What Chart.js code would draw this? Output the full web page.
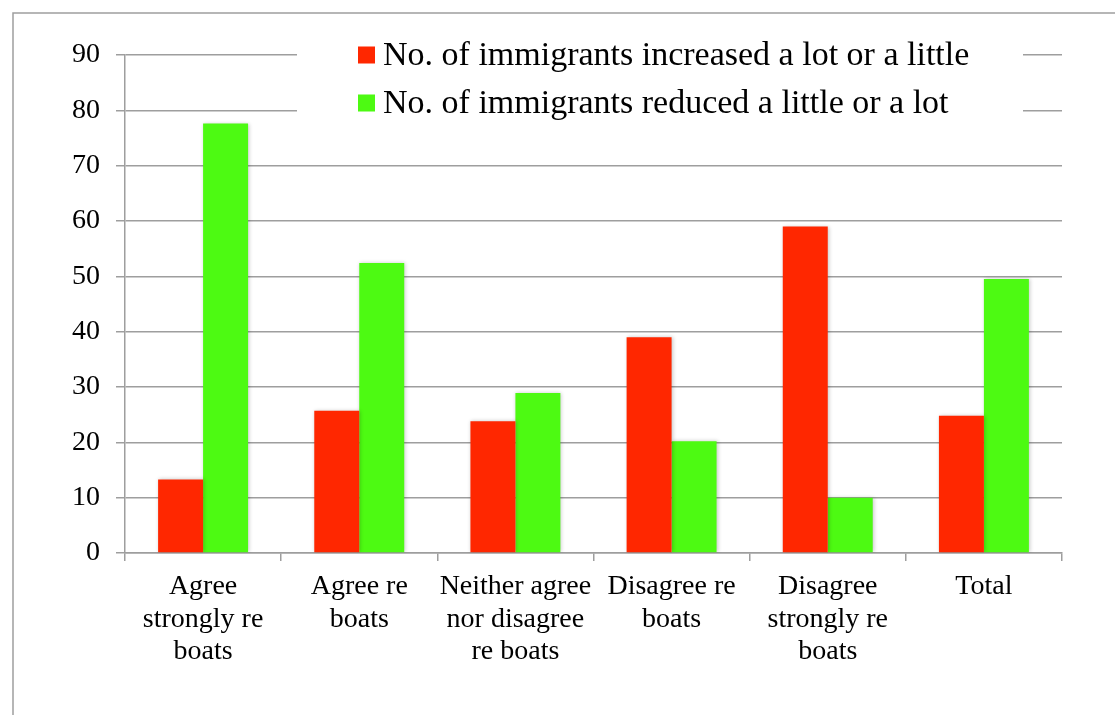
<!DOCTYPE html>
<html>
<head>
<meta charset="utf-8">
<script src="https://cdn.jsdelivr.net/npm/chart.js@4.4.1/dist/chart.umd.min.js"></script>
<style>
  html, body { margin: 0; padding: 0; background: #ffffff; }
  #wrap { width: 1115px; height: 715px; position: relative; }
</style>
</head>
<body>
<div id="wrap"><canvas id="chart" width="1115" height="715"></canvas></div>
<script>
// Survey responses: attitude to turning back boats vs. preferred immigration level (%)
const categories = [
  ["Agree", "strongly re", "boats"],
  ["Agree re", "boats"],
  ["Neither agree", "nor disagree", "re boats"],
  ["Disagree re", "boats"],
  ["Disagree", "strongly re", "boats"],
  ["Total"]
];
const increasedLabel = "No. of immigrants increased a lot or a little";
const reducedLabel = "No. of immigrants reduced a little or a lot";
const increasedValues = [13.3, 25.7, 23.8, 39.0, 59.0, 24.8];
const reducedValues = [77.6, 52.4, 28.9, 20.2, 10.0, 49.5];
const yTicks = [0, 10, 20, 30, 40, 50, 60, 70, 80, 90];

const FONT = "'Liberation Serif', 'Times New Roman', serif";
const GRID = '#9e9e9e';
const RED = '#ff2700';
const GREEN = '#4dfa12';

// Outer frame line around the chart
const framePlugin = {
  id: 'frame',
  beforeDraw(chart) {
    const ctx = chart.ctx;
    ctx.save();
    ctx.fillStyle = '#ffffff';
    ctx.fillRect(0, 0, chart.width, chart.height);
    ctx.strokeStyle = GRID;
    ctx.lineWidth = 1.5;
    ctx.beginPath();
    ctx.moveTo(13, chart.height);
    ctx.lineTo(13, 13);
    ctx.lineTo(chart.width, 13);
    ctx.stroke();
    ctx.restore();
  }
};

// Soft drop shadow under the bars
const shadowPlugin = {
  id: 'barShadow',
  beforeDatasetsDraw(chart) {
    const ctx = chart.ctx;
    ctx.save();
    ctx.shadowColor = 'rgba(0,0,0,0.22)';
    ctx.shadowBlur = 4;
    ctx.shadowOffsetX = 1;
    ctx.shadowOffsetY = 0;
  },
  afterDatasetsDraw(chart) {
    chart.ctx.restore();
  }
};

// Legend box sitting over the top gridlines
const legendPlugin = {
  id: 'boxLegend',
  afterDatasetsDraw(chart) {
    const ctx = chart.ctx;
    ctx.save();
    ctx.fillStyle = '#ffffff';
    ctx.fillRect(297, 36, 726, 88);
    const rows = [55, 103];
    chart.data.datasets.forEach((ds, i) => {
      const cy = rows[i];
      ctx.fillStyle = ds.backgroundColor;
      ctx.fillRect(358, cy - 8.5, 17, 17);
      ctx.fillStyle = '#000000';
      ctx.font = `34px ${FONT}`;
      ctx.textBaseline = 'middle';
      ctx.textAlign = 'left';
      ctx.fillText(ds.label, 383, cy + 1);
    });
    ctx.restore();
  }
};

new Chart(document.getElementById('chart'), {
  type: 'bar',
  data: {
    labels: categories,
    datasets: [
      { label: increasedLabel, data: increasedValues, backgroundColor: RED },
      { label: reducedLabel, data: reducedValues, backgroundColor: GREEN }
    ]
  },
  options: {
    responsive: false,
    animation: false,
    devicePixelRatio: 1,
    layout: { padding: { top: 55, right: 53, left: 0, bottom: 0 } },
    datasets: { bar: { categoryPercentage: 0.576, barPercentage: 1.0, borderWidth: 0 } },
    plugins: {
      legend: { display: false },
      tooltip: { enabled: false }
    },
    scales: {
      x: {
        grid: { display: true, drawOnChartArea: false, drawTicks: true, tickLength: 8, color: GRID, lineWidth: 1.5, offset: true },
        border: { display: true, color: GRID, width: 1.5 },
        ticks: {
          color: '#000000',
          font: { family: FONT, size: 28, lineHeight: 1.15 },
          padding: 10,
          maxRotation: 0,
          autoSkip: false
        },
        afterFit(scale) { scale.height = 162; }
      },
      y: {
        min: 0,
        max: 90,
        afterBuildTicks(scale) { scale.ticks = yTicks.map(v => ({ value: v })); },
        grid: { color: GRID, lineWidth: 1.5, tickLength: 9, drawTicks: true },
        border: { display: true, color: GRID, width: 1.5 },
        ticks: {
          color: '#000000',
          font: { family: FONT, size: 28 },
          padding: 16
        },
        afterFit(scale) { scale.width = 125; }
      }
    }
  },
  plugins: [framePlugin, shadowPlugin, legendPlugin]
});
</script>
</body>
</html>
